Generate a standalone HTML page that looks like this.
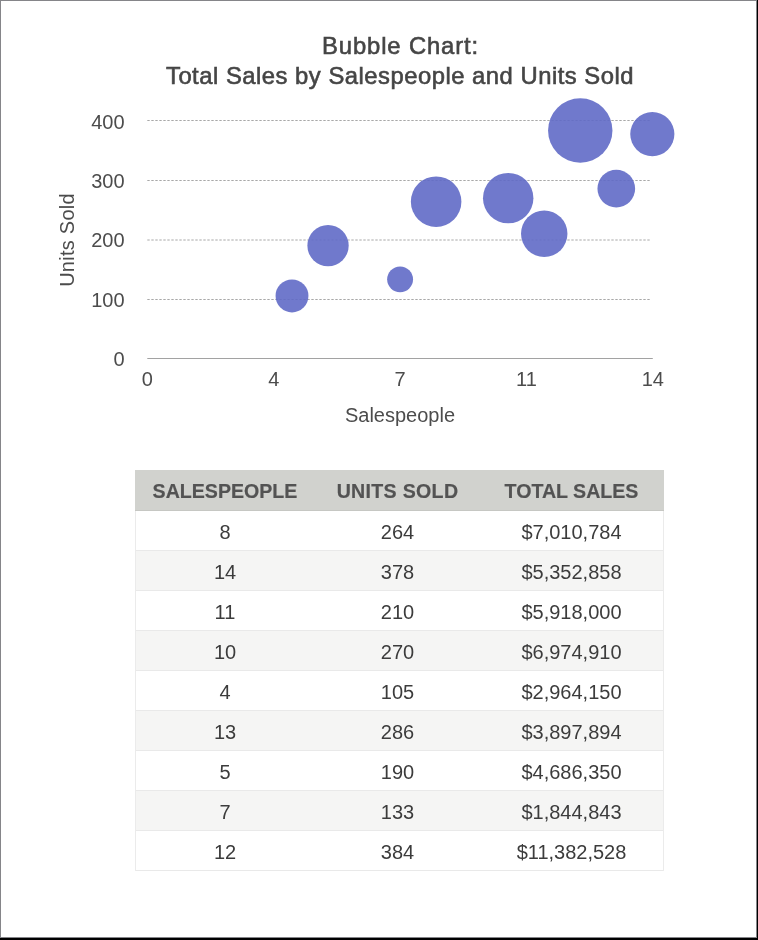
<!DOCTYPE html>
<html><head><meta charset="utf-8"><title>Bubble Chart</title>
<style>
html,body{margin:0;padding:0;background:#fff;overflow:hidden;}
body{width:758px;height:940px;position:relative;overflow:hidden;font-family:"Liberation Sans",sans-serif;}
.frame{position:absolute;left:0;top:0;width:757px;height:938px;box-sizing:border-box;border:1px solid #858589;z-index:10;pointer-events:none;}
.fr{position:absolute;left:757px;top:0;width:1px;height:940px;background:#000;z-index:11;}
.fb{position:absolute;left:0;top:938px;width:758px;height:2px;background:#000;z-index:11;}
.title{position:absolute;left:42px;width:716px;text-align:center;font-size:23.8px;line-height:30px;color:#454545;letter-spacing:0.5px;-webkit-text-stroke:0.6px #454545;white-space:nowrap;transform-origin:400px 50%;}
.yl{position:absolute;left:60px;width:64.6px;text-align:right;font-size:20px;line-height:24px;color:#4c4c4c;}
.xl{position:absolute;top:366.5px;width:60px;text-align:center;font-size:20px;line-height:24px;color:#4c4c4c;}
.axt{position:absolute;font-size:20px;line-height:24px;color:#4c4c4c;white-space:nowrap;}
svg{position:absolute;left:0;top:0;}
.tbl{position:absolute;left:135px;top:470px;width:529px;height:401px;box-sizing:border-box;border-left:1px solid #ebebeb;border-right:1px solid #ebebeb;}
.th{position:absolute;left:-1px;top:0;width:529px;height:41px;box-sizing:border-box;background:#d1d2ce;border-bottom:1px solid #c6c7c3;}
.th span,.tr span{position:absolute;top:0;text-align:center;white-space:nowrap;}
.th span{font-weight:bold;font-size:20.3px;line-height:42px;color:#535353;margin-left:1px;transform:scaleX(0.966);-webkit-text-stroke:0.2px #535353;}
.tr{position:absolute;left:0;width:527px;height:40px;box-sizing:border-box;border-bottom:1px solid #e9e9e9;background:#fff;}
.tr.alt{background:#f5f5f4;}
.tr span{font-size:20px;line-height:43px;color:#3c3c3c;}
.c1{left:-1px;width:180px;}
.c2{left:179px;width:165px;}
.c3{left:344px;width:183px;}
.wrap{position:absolute;left:0;top:0;width:758px;height:940px;will-change:transform;}
</style></head><body><div class="wrap">
<div class="title" style="top:30.5px;box-sizing:border-box;padding-left:1px;letter-spacing:0.87px">Bubble Chart:</div>
<div class="title" style="top:60.5px;letter-spacing:0.51px">Total Sales by Salespeople and Units Sold</div>
<svg width="758" height="440" viewBox="0 0 758 440">
  <g stroke="#a8a8a8" stroke-width="1" stroke-dasharray="2.4 1.6" fill="none"><line x1="147.3" x2="651.2" y1="120.5" y2="120.5"/><line x1="147.3" x2="651.2" y1="180.5" y2="180.5"/><line x1="147.3" x2="651.2" y1="240.0" y2="240.0"/><line x1="147.3" x2="651.2" y1="299.5" y2="299.5"/></g>
  <line x1="147.3" x2="652.8" y1="358.5" y2="358.5" stroke="#a2a2a2" stroke-width="1"/>
  <g opacity="0.9" fill="#616bc7"><circle cx="436.13" cy="201.69" r="25.27"/><circle cx="652.32" cy="134.09" r="22.08"/><circle cx="544.23" cy="233.71" r="23.22"/><circle cx="508.20" cy="198.13" r="25.21"/><circle cx="292.00" cy="295.97" r="16.43"/><circle cx="616.29" cy="188.64" r="18.84"/><circle cx="328.04" cy="245.57" r="20.66"/><circle cx="400.10" cy="279.37" r="12.96"/><circle cx="580.26" cy="130.53" r="32.20"/></g>
</svg>
<div class="yl" style="top:109.6px">400</div><div class="yl" style="top:169.3px">300</div><div class="yl" style="top:228.2px">200</div><div class="yl" style="top:287.6px">100</div><div class="yl" style="top:346.9px">0</div>
<div class="xl" style="left:117.3px">0</div><div class="xl" style="left:243.7px">4</div><div class="xl" style="left:370.0px">7</div><div class="xl" style="left:496.4px">11</div><div class="xl" style="left:622.8px">14</div>
<div class="axt" style="left:400px;top:402.5px;transform:translateX(-50%)">Salespeople</div>
<div class="axt" style="left:66.7px;top:240.4px;letter-spacing:0.25px;transform:translate(-50%,-50%) rotate(-90deg)">Units Sold</div>
<div class="tbl">
  <div class="th"><span class="c1">SALESPEOPLE</span><span class="c2" style="letter-spacing:0.32px">UNITS SOLD</span><span class="c3">TOTAL SALES</span></div>
  <div class="tr " style="top:41px"><span class="c1">8</span><span class="c2">264</span><span class="c3">$7,010,784</span></div><div class="tr alt" style="top:81px"><span class="c1">14</span><span class="c2">378</span><span class="c3">$5,352,858</span></div><div class="tr " style="top:121px"><span class="c1">11</span><span class="c2">210</span><span class="c3">$5,918,000</span></div><div class="tr alt" style="top:161px"><span class="c1">10</span><span class="c2">270</span><span class="c3">$6,974,910</span></div><div class="tr " style="top:201px"><span class="c1">4</span><span class="c2">105</span><span class="c3">$2,964,150</span></div><div class="tr alt" style="top:241px"><span class="c1">13</span><span class="c2">286</span><span class="c3">$3,897,894</span></div><div class="tr " style="top:281px"><span class="c1">5</span><span class="c2">190</span><span class="c3">$4,686,350</span></div><div class="tr alt" style="top:321px"><span class="c1">7</span><span class="c2">133</span><span class="c3">$1,844,843</span></div><div class="tr " style="top:361px"><span class="c1">12</span><span class="c2">384</span><span class="c3">$11,382,528</span></div>
</div>
</div><div class="frame"></div><div class="fr"></div><div class="fb"></div>
</body></html>
